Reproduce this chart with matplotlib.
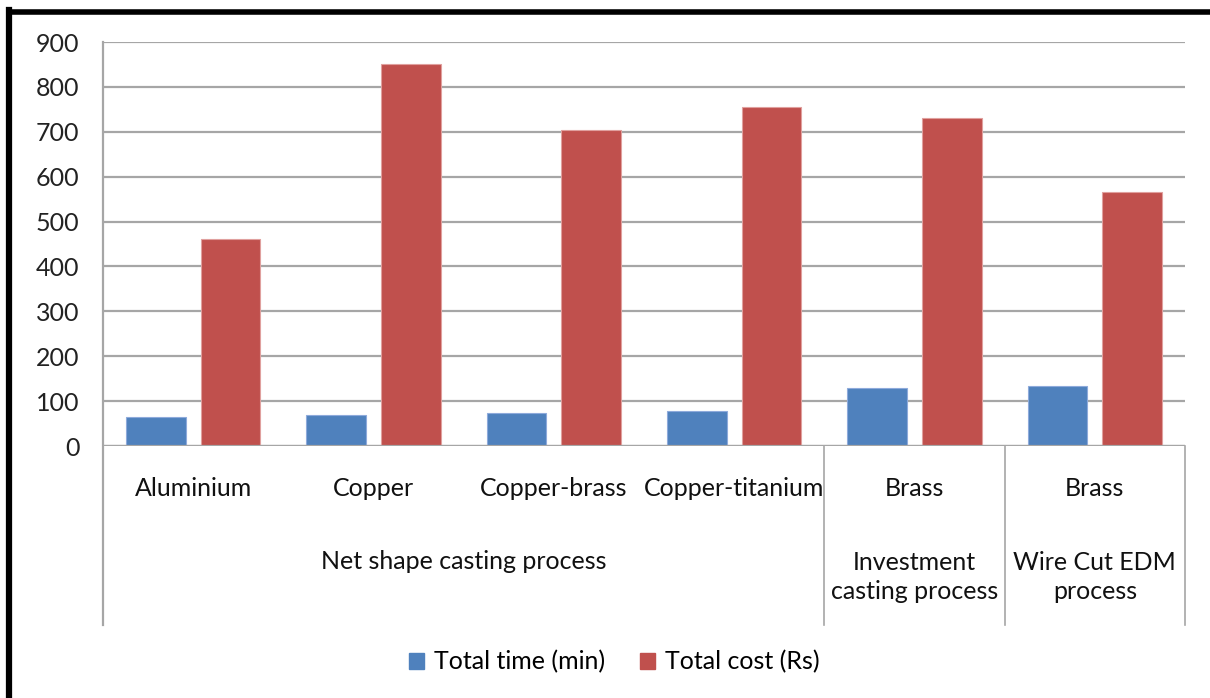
import matplotlib
matplotlib.use("Agg")
import matplotlib.pyplot as plt
import numpy as np
from matplotlib.lines import Line2D
from matplotlib.patches import Patch

# Material / process data
materials = ["Aluminium", "Copper", "Copper-brass", "Copper-titanium", "Brass", "Brass"]
total_time = [65, 70, 73, 79, 130, 133]
total_cost = [461, 850, 705, 756, 730, 566]
process_labels = ["Net shape casting process", "Investment\ncasting process", "Wire Cut EDM\nprocess"]
process_spans = [(0, 3), (4, 4), (5, 5)]

BLUE = "#4f81bd"
RED = "#c0504d"
GRID = "#a6a6a6"
FS = 18

plt.rcParams["font.family"] = ["Lato", "DejaVu Sans"]

fig = plt.figure(figsize=(12.1, 6.98), dpi=100)
ax = fig.add_axes([103 / 1210, 1 - 446 / 698, (1185 - 103) / 1210, (446 - 42) / 698])

x = np.arange(len(materials))
w = 0.33
off = 0.2075
ax.bar(x - off, total_time, w, color=BLUE, edgecolor="#8eaadb", linewidth=0.8, zorder=3)
ax.bar(x + off, total_cost, w, color=RED, edgecolor="#e0a09e", linewidth=0.8, zorder=3)

ax.set_xlim(-0.5, len(materials) - 0.5)
ax.set_ylim(0, 900)
ax.set_yticks(range(0, 1000, 100))
ax.yaxis.grid(True, color=GRID, linewidth=1.6, zorder=0)
ax.set_axisbelow(True)
ax.tick_params(axis="y", length=0, pad=17, labelsize=FS, labelcolor="#222222")
ax.tick_params(axis="x", length=0, labelbottom=False)
for s in ["top", "right", "bottom", "left"]:
    ax.spines[s].set_visible(False)

# Left axis line and category separators running down through the label area
trans = ax.get_xaxis_transform()
ax.add_line(Line2D([-0.5, -0.5], [1.0, -0.443], transform=trans, color=GRID,
                   linewidth=1.6, clip_on=False))
for xb in [3.5, 4.5, 5.5]:
    ax.add_line(Line2D([xb, xb], [0, -0.443], transform=trans, color=GRID,
                       linewidth=1.2, clip_on=False))
ax.axhline(0, color=GRID, linewidth=1.6, zorder=4)

for xi, name in zip(x, materials):
    ax.text(xi, -0.106, name, transform=trans, ha="center", va="center",
            fontsize=FS, color="#111111")
for (a, b), lab in zip(process_spans, process_labels):
    ypos = -0.2847 if "\n" not in lab else -0.3243
    ax.text((a + b) / 2, ypos, lab, transform=trans, ha="center", va="center",
            fontsize=FS, color="#111111", linespacing=1.32)

handles = [Patch(facecolor=BLUE, edgecolor=BLUE), Patch(facecolor=RED, edgecolor=RED)]
fig.legend(handles, ["Total time (min)", "Total cost (Rs)"], loc="center",
           bbox_to_anchor=(614 / 1210, 1 - 662 / 698), ncol=2, frameon=False,
           fontsize=FS, handlelength=0.6, handleheight=0.6, handletextpad=0.4,
           columnspacing=1.4)

# Black frame along the top and left edges
fig.add_artist(Line2D([9 / 1210, 1.0], [1 - 11.5 / 698, 1 - 11.5 / 698],
                      transform=fig.transFigure, color="black", linewidth=4))
fig.add_artist(Line2D([9 / 1210, 9 / 1210], [0, 1 - 11.5 / 698 + 2 / 698],
                      transform=fig.transFigure, color="black", linewidth=4.5))

fig.savefig("out.png", dpi=100)
